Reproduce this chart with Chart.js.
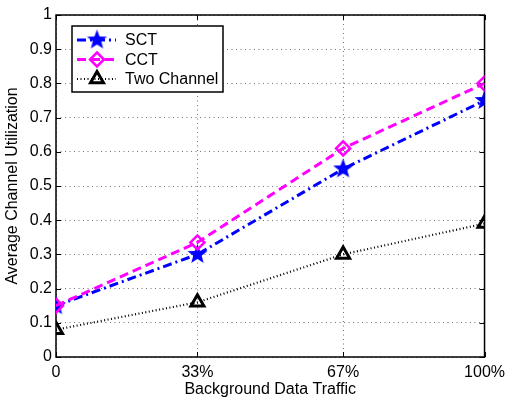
<!DOCTYPE html>
<html>
<head>
<meta charset="utf-8">
<script src="https://cdn.jsdelivr.net/npm/chart.js@4/dist/chart.umd.min.js"></script>
<style>
  html, body { margin: 0; padding: 0; background: #fff; }
  #wrap { width: 511px; height: 399px; }
</style>
</head>
<body>
<div id="wrap"><canvas id="c" width="511" height="399"></canvas></div>
<script>
// Background traffic levels (percent) and their axis labels
const trafficLevels = [0, 33, 67, 100];
const trafficLabels = ['0', '33%', '67%', '100%'];

// Average channel utilization per scheme
const sctValues = [0.15, 0.30, 0.55, 0.75];
const cctValues = [0.15, 0.335, 0.61, 0.80];
const twoChannelValues = [0.08, 0.16, 0.30, 0.39];

const seriesNames = ['SCT', 'CCT', 'Two Channel'];

const FONT = '"Liberation Sans", Arial, Helvetica, sans-serif';
const FS = 16;

function toPoints(vals) {
  return trafficLevels.map((x, i) => ({ x: x, y: vals[i] }));
}

// Filled five-pointed star used as the SCT marker
function starImage(r, color) {
  const s = Math.ceil(r * 2 + 2);
  const c = document.createElement('canvas');
  c.width = s; c.height = s;
  const g = c.getContext('2d');
  g.fillStyle = color;
  g.beginPath();
  for (let i = 0; i < 10; i++) {
    const a = -Math.PI / 2 + i * Math.PI / 5;
    const rr = (i % 2) ? r * 0.42 : r;
    g.lineTo(s / 2 + rr * Math.cos(a), s / 2 + rr * Math.sin(a));
  }
  g.closePath();
  g.fill();
  return c;
}
const star = starImage(10.5, '#0000ff');

const styles = [
  { color: '#0000ff', dash: [9, 4, 2, 4], width: 3, marker: 'star', radius: 10, bw: 0 },
  { color: '#ff00ff', dash: [9, 5], width: 3, marker: 'rectRot', radius: 7, bw: 2.5 },
  { color: '#000000', dash: [1, 2.5], width: 2.2, marker: 'triangle', radius: 7.5, bw: 3 }
];

const seriesValues = [sctValues, cctValues, twoChannelValues];

const datasets = seriesValues.map((vals, i) => {
  const st = styles[i];
  return {
    label: seriesNames[i],
    data: toPoints(vals),
    borderColor: st.color,
    borderWidth: st.width,
    borderDash: st.dash,
    backgroundColor: 'rgba(0,0,0,0)',
    pointStyle: st.marker === 'star' ? star : st.marker,
    pointRadius: st.radius,
    pointBorderWidth: st.bw,
    pointBorderColor: st.color,
    pointBackgroundColor: 'rgba(0,0,0,0)',
    tension: 0,
    fill: false,
    order: [1, 0, 2][i]
  };
});

// Axis box with inward tick marks on all four sides
const framePlugin = {
  id: 'frame',
  beforeDatasetsDraw(chart) {
    const { ctx, chartArea: a, scales } = chart;
    ctx.save();
    ctx.strokeStyle = '#000';
    ctx.lineWidth = 1.5;
    ctx.setLineDash([]);
    ctx.strokeRect(a.left, a.top, a.right - a.left, a.bottom - a.top);
    ctx.lineWidth = 1;
    const tl = 5;
    scales.y.ticks.forEach(t => {
      const y = Math.round(scales.y.getPixelForValue(t.value)) + 0.5;
      ctx.beginPath();
      ctx.moveTo(a.left, y); ctx.lineTo(a.left + tl, y);
      ctx.moveTo(a.right, y); ctx.lineTo(a.right - tl, y);
      ctx.stroke();
    });
    scales.x.ticks.forEach(t => {
      const x = Math.round(scales.x.getPixelForValue(t.value)) + 0.5;
      ctx.beginPath();
      ctx.moveTo(x, a.bottom); ctx.lineTo(x, a.bottom - tl);
      ctx.moveTo(x, a.top); ctx.lineTo(x, a.top + tl);
      ctx.stroke();
    });
    ctx.restore();
  }
};

function drawMarker(ctx, st, x, y) {
  if (st.marker === 'star') {
    ctx.drawImage(star, x - star.width / 2, y - star.height / 2);
    return;
  }
  ctx.save();
  ctx.setLineDash([]);
  ctx.strokeStyle = st.color;
  ctx.lineWidth = st.bw;
  ctx.beginPath();
  const r = st.radius;
  if (st.marker === 'rectRot') {
    ctx.moveTo(x, y - r); ctx.lineTo(x + r, y); ctx.lineTo(x, y + r); ctx.lineTo(x - r, y);
  } else {
    for (let k = 0; k < 3; k++) {
      const ang = k * 2 * Math.PI / 3;
      ctx.lineTo(x + Math.sin(ang) * r, y - Math.cos(ang) * r);
    }
  }
  ctx.closePath();
  ctx.stroke();
  ctx.restore();
}

// Boxed legend in the upper-left of the plot
const legendPlugin = {
  id: 'boxLegend',
  afterDatasetsDraw(chart) {
    const ctx = chart.ctx;
    const bx = 72, by = 26, bw = 151, bh = 66;
    ctx.save();
    ctx.fillStyle = '#fff';
    ctx.fillRect(bx, by, bw, bh);
    ctx.strokeStyle = '#000';
    ctx.lineWidth = 1.5;
    ctx.setLineDash([]);
    ctx.strokeRect(bx, by, bw, bh);
    const rows = [40, 59.5, 79];
    ctx.font = FS + 'px ' + FONT;
    ctx.textBaseline = 'middle';
    ctx.textAlign = 'left';
    styles.forEach((st, i) => {
      const y = rows[i];
      ctx.save();
      ctx.strokeStyle = st.color;
      ctx.lineWidth = st.width;
      ctx.setLineDash(st.dash);
      ctx.beginPath();
      ctx.moveTo(77, y); ctx.lineTo(116, y);
      ctx.stroke();
      ctx.restore();
      drawMarker(ctx, st, 97, y);
      ctx.fillStyle = '#000';
      ctx.fillText(seriesNames[i], 125, y + 1);
    });
    ctx.restore();
  }
};

new Chart(document.getElementById('c'), {
  type: 'line',
  data: { datasets: datasets },
  options: {
    responsive: false,
    animation: false,
    devicePixelRatio: 1,
    layout: { padding: { left: 0, right: 21, top: 15, bottom: 0 } },
    plugins: { legend: { display: false }, tooltip: { enabled: false } },
    scales: {
      x: {
        type: 'linear',
        min: 0, max: 100,
        afterBuildTicks(scale) { scale.ticks = trafficLevels.map(v => ({ value: v })); },
        afterFit(scale) { scale.height = 42; },
        ticks: {
          callback(v) { const i = trafficLevels.indexOf(v); return i >= 0 ? trafficLabels[i] : ''; },
          color: '#000',
          font: { family: FONT, size: FS },
          padding: 6,
          maxRotation: 0,
          autoSkip: false
        },
        grid: { color: 'rgba(0,0,0,0.55)', lineWidth: 1, drawTicks: false },
        border: { display: false, dash: [1, 3.5] },
        title: {
          display: true,
          text: 'Background Data Traffic',
          color: '#000',
          font: { family: FONT, size: FS },
          padding: { top: 0, bottom: 0 }
        }
      },
      y: {
        min: 0, max: 1,
        afterFit(scale) { scale.width = 56; },
        ticks: {
          stepSize: 0.1,
          callback(v) { const r = Math.round(v * 10) / 10; return (r === 0 || r === 1) ? String(r) : r.toFixed(1); },
          color: '#000',
          font: { family: FONT, size: FS },
          padding: 4
        },
        grid: { color: 'rgba(0,0,0,0.55)', lineWidth: 1, drawTicks: false },
        border: { display: false, dash: [1, 3.5] },
        title: {
          display: true,
          text: 'Average Channel Utilization',
          color: '#000',
          font: { family: FONT, size: FS },
          padding: { top: 3, bottom: 0 }
        }
      }
    }
  },
  plugins: [framePlugin, legendPlugin]
});
</script>
</body>
</html>
